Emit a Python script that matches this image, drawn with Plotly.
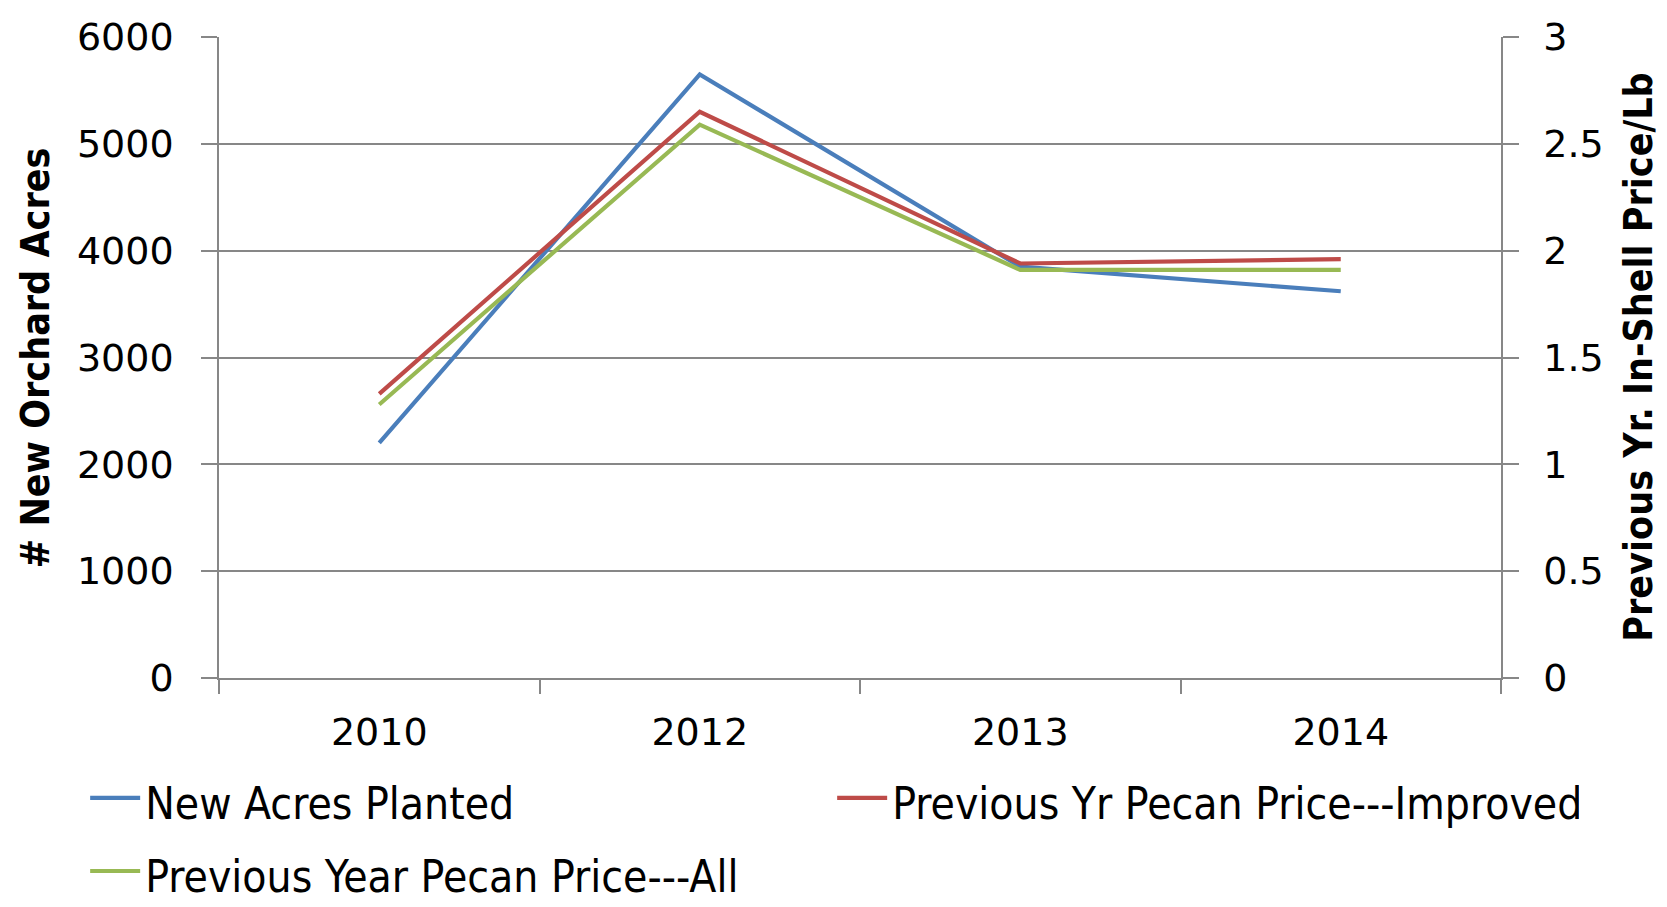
import plotly.graph_objects as go

years = ["2010", "2012", "2013", "2014"]
new_acres = [2200, 5650, 3850, 3620]
price_improved = [1.33, 2.65, 1.94, 1.96]
price_all = [1.28, 2.59, 1.91, 1.91]

names = ["New Acres Planted", "Previous Yr Pecan Price---Improved", "Previous Year Pecan Price---All"]
colors = ["#4A7EBB", "#BE4B48", "#98B954"]

W, H = 1667, 907
L, R, T, B = 210.5, 174.4, 28.7, 237.2
GRID = "#878787"
TICKFONT = dict(family="DejaVu Sans, Verdana, sans-serif", size=38, color="black")
COND = "DejaVu Sans Condensed, Liberation Sans Narrow, sans-serif"


def leg(name):
    return '<span style="font-size:44px">' + name + '</span>'


fig = go.Figure()
fig.add_trace(go.Scatter(x=years, y=new_acres, name=leg(names[0]), mode="lines",
                         line=dict(color=colors[0], width=4.2), yaxis="y"))
fig.add_trace(go.Scatter(x=years, y=price_improved, name=leg(names[1]), mode="lines",
                         line=dict(color=colors[1], width=4.2), yaxis="y2"))
fig.add_trace(go.Scatter(x=years, y=price_all, name=leg(names[2]), mode="lines",
                         line=dict(color=colors[2], width=4.2), yaxis="y2"))

fig.update_layout(
    width=W, height=H,
    margin=dict(l=L, r=R, t=T, b=B, autoexpand=False),
    plot_bgcolor="white", paper_bgcolor="white",
    xaxis=dict(type="category", range=[-0.5, 3.5], showgrid=False,
               showline=True, linecolor=GRID, linewidth=1.5,
               ticks="outside", tickson="boundaries", ticklen=14, tickcolor=GRID, tickwidth=1.5,
               tickfont=TICKFONT, ticklabelstandoff=20),
    yaxis=dict(range=[0, 6000], dtick=1000, showgrid=True, gridcolor=GRID, gridwidth=1.5,
               zeroline=False, showline=True, linecolor=GRID, linewidth=1.5,
               ticks="outside", ticklen=16, tickcolor=GRID, tickwidth=1.5,
               tickfont=TICKFONT, ticklabelstandoff=20),
    yaxis2=dict(range=[0, 3], dtick=0.5, overlaying="y", side="right", showgrid=False,
                zeroline=False, showline=True, linecolor=GRID, linewidth=1.5,
                ticks="outside", ticklen=16, tickcolor=GRID, tickwidth=1.5,
                tickfont=TICKFONT, ticklabelstandoff=17),
    showlegend=True,
    legend=dict(orientation="h", xref="paper", yref="paper",
                x=-0.1044, y=-0.122, xanchor="left", yanchor="top",
                itemwidth=50, entrywidth=682, entrywidthmode="pixels",
                font=dict(family=COND, size=54, color="black"),
                bgcolor="rgba(0,0,0,0)"),
    annotations=[
        dict(text="<b># New Orchard Acres</b>", textangle=-90, xref="paper", yref="paper",
             x=-0.143, y=0.5, xanchor="center", yanchor="middle", showarrow=False,
             font=dict(family=COND, size=39, color="black")),
        dict(text="<b>Previous Yr. In-Shell Price/Lb</b>", textangle=-90, xref="paper", yref="paper",
             x=1.107, y=0.5, xanchor="center", yanchor="middle", showarrow=False,
             font=dict(family=COND, size=39, color="black")),
    ],
)

fig.write_html("out.html")
